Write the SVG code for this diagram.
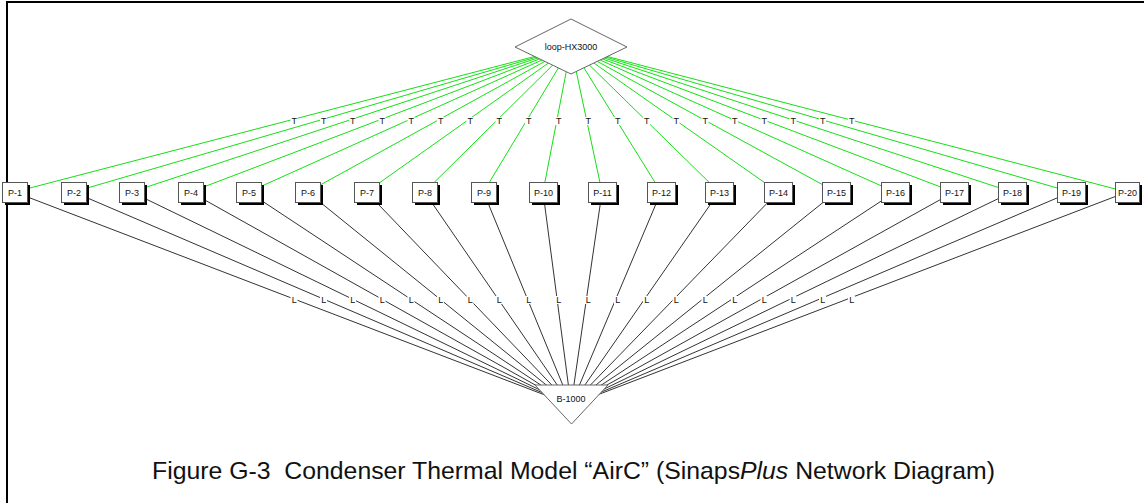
<svg xmlns="http://www.w3.org/2000/svg" width="1144" height="503" viewBox="0 0 1144 503">
  <style>
    .frame { stroke: #000; stroke-width: 2; fill: none; }
    .cT { stroke: #14e014; stroke-width: 1; fill: none; }
    .cL { stroke: #333; stroke-width: 1; fill: none; }
    .lblbg { fill: #fff; }
    .lbl { font-family: "Liberation Sans", Arial, sans-serif; font-size: 9px; fill: #111; text-anchor: middle; }
    .shadow { fill: #000; }
    .box { fill: #fff; stroke: #555; stroke-width: 1; }
    .ntext { font-family: "Liberation Sans", Arial, sans-serif; font-size: 9px; fill: #111; text-anchor: middle; }
    .shape { fill: #fff; stroke: #666; stroke-width: 1; }
    .caption { font-family: "Liberation Sans", Arial, sans-serif; font-size: 24.8px; fill: #111; text-anchor: middle; }
  </style>

  <rect width="1144" height="503" fill="#fff"/>
  <!-- page frame -->
  <path class="frame" d="M7,503 V2 H1144"/>

  <!-- connectors: T links from loop-HX3000, L links to B-1000 -->
  <g id="connectors">
    <g id="t-links">
      <line class="cT" x1="571" y1="47" x2="14.5" y2="192"/>
      <line class="cT" x1="571" y1="47" x2="73.5" y2="192"/>
      <line class="cT" x1="571" y1="47" x2="131.5" y2="192"/>
      <line class="cT" x1="571" y1="47" x2="190.5" y2="192"/>
      <line class="cT" x1="571" y1="47" x2="248.5" y2="192"/>
      <line class="cT" x1="571" y1="47" x2="307.5" y2="192"/>
      <line class="cT" x1="571" y1="47" x2="366.5" y2="192"/>
      <line class="cT" x1="571" y1="47" x2="424.5" y2="192"/>
      <line class="cT" x1="571" y1="47" x2="483.5" y2="192"/>
      <line class="cT" x1="571" y1="47" x2="543" y2="192"/>
      <line class="cT" x1="571" y1="47" x2="602" y2="192"/>
      <line class="cT" x1="571" y1="47" x2="661" y2="192"/>
      <line class="cT" x1="571" y1="47" x2="719" y2="192"/>
      <line class="cT" x1="571" y1="47" x2="778" y2="192"/>
      <line class="cT" x1="571" y1="47" x2="836" y2="192"/>
      <line class="cT" x1="571" y1="47" x2="895" y2="192"/>
      <line class="cT" x1="571" y1="47" x2="954" y2="192"/>
      <line class="cT" x1="571" y1="47" x2="1012" y2="192"/>
      <line class="cT" x1="571" y1="47" x2="1071" y2="192"/>
      <line class="cT" x1="571" y1="47" x2="1127" y2="192"/>
    </g>
    <g id="l-links">
      <line class="cL" x1="14.5" y1="192" x2="571" y2="405"/>
      <line class="cL" x1="73.5" y1="192" x2="571" y2="405"/>
      <line class="cL" x1="131.5" y1="192" x2="571" y2="405"/>
      <line class="cL" x1="190.5" y1="192" x2="571" y2="405"/>
      <line class="cL" x1="248.5" y1="192" x2="571" y2="405"/>
      <line class="cL" x1="307.5" y1="192" x2="571" y2="405"/>
      <line class="cL" x1="366.5" y1="192" x2="571" y2="405"/>
      <line class="cL" x1="424.5" y1="192" x2="571" y2="405"/>
      <line class="cL" x1="483.5" y1="192" x2="571" y2="405"/>
      <line class="cL" x1="543" y1="192" x2="571" y2="405"/>
      <line class="cL" x1="602" y1="192" x2="571" y2="405"/>
      <line class="cL" x1="661" y1="192" x2="571" y2="405"/>
      <line class="cL" x1="719" y1="192" x2="571" y2="405"/>
      <line class="cL" x1="778" y1="192" x2="571" y2="405"/>
      <line class="cL" x1="836" y1="192" x2="571" y2="405"/>
      <line class="cL" x1="895" y1="192" x2="571" y2="405"/>
      <line class="cL" x1="954" y1="192" x2="571" y2="405"/>
      <line class="cL" x1="1012" y1="192" x2="571" y2="405"/>
      <line class="cL" x1="1071" y1="192" x2="571" y2="405"/>
      <line class="cL" x1="1127" y1="192" x2="571" y2="405"/>
    </g>
    <!-- link labels, each on a small white patch at the link midpoint -->
    <g id="t-labels">
      <rect class="lblbg" x="290.5" y="117" width="7" height="8"/><text class="lbl" x="294.2" y="124">T</text>
      <rect class="lblbg" x="320" y="117" width="7" height="8"/><text class="lbl" x="323.7" y="124">T</text>
      <rect class="lblbg" x="349" y="117" width="7" height="8"/><text class="lbl" x="352.7" y="124">T</text>
      <rect class="lblbg" x="378.5" y="117" width="7" height="8"/><text class="lbl" x="382.2" y="124">T</text>
      <rect class="lblbg" x="407.5" y="117" width="7" height="8"/><text class="lbl" x="411.2" y="124">T</text>
      <rect class="lblbg" x="437" y="117" width="7" height="8"/><text class="lbl" x="440.7" y="124">T</text>
      <rect class="lblbg" x="466.5" y="117" width="7" height="8"/><text class="lbl" x="470.2" y="124">T</text>
      <rect class="lblbg" x="495.5" y="117" width="7" height="8"/><text class="lbl" x="499.2" y="124">T</text>
      <rect class="lblbg" x="525" y="117" width="7" height="8"/><text class="lbl" x="528.7" y="124">T</text>
      <rect class="lblbg" x="555" y="117" width="7" height="8"/><text class="lbl" x="558.7" y="124">T</text>
      <rect class="lblbg" x="584.5" y="117" width="7" height="8"/><text class="lbl" x="588.2" y="124">T</text>
      <rect class="lblbg" x="614" y="117" width="7" height="8"/><text class="lbl" x="617.7" y="124">T</text>
      <rect class="lblbg" x="643" y="117" width="7" height="8"/><text class="lbl" x="646.7" y="124">T</text>
      <rect class="lblbg" x="672.5" y="117" width="7" height="8"/><text class="lbl" x="676.2" y="124">T</text>
      <rect class="lblbg" x="701.5" y="117" width="7" height="8"/><text class="lbl" x="705.2" y="124">T</text>
      <rect class="lblbg" x="731" y="117" width="7" height="8"/><text class="lbl" x="734.7" y="124">T</text>
      <rect class="lblbg" x="760.5" y="117" width="7" height="8"/><text class="lbl" x="764.2" y="124">T</text>
      <rect class="lblbg" x="789.5" y="117" width="7" height="8"/><text class="lbl" x="793.2" y="124">T</text>
      <rect class="lblbg" x="819" y="117" width="7" height="8"/><text class="lbl" x="822.7" y="124">T</text>
      <rect class="lblbg" x="848" y="117" width="7" height="8"/><text class="lbl" x="851.7" y="124">T</text>
    </g>
    <g id="l-labels">
      <rect class="lblbg" x="290.5" y="296" width="7" height="8"/><text class="lbl" x="294.2" y="303">L</text>
      <rect class="lblbg" x="320" y="296" width="7" height="8"/><text class="lbl" x="323.7" y="303">L</text>
      <rect class="lblbg" x="349" y="296" width="7" height="8"/><text class="lbl" x="352.7" y="303">L</text>
      <rect class="lblbg" x="378.5" y="296" width="7" height="8"/><text class="lbl" x="382.2" y="303">L</text>
      <rect class="lblbg" x="407.5" y="296" width="7" height="8"/><text class="lbl" x="411.2" y="303">L</text>
      <rect class="lblbg" x="437" y="296" width="7" height="8"/><text class="lbl" x="440.7" y="303">L</text>
      <rect class="lblbg" x="466.5" y="296" width="7" height="8"/><text class="lbl" x="470.2" y="303">L</text>
      <rect class="lblbg" x="495.5" y="296" width="7" height="8"/><text class="lbl" x="499.2" y="303">L</text>
      <rect class="lblbg" x="525" y="296" width="7" height="8"/><text class="lbl" x="528.7" y="303">L</text>
      <rect class="lblbg" x="555" y="296" width="7" height="8"/><text class="lbl" x="558.7" y="303">L</text>
      <rect class="lblbg" x="584.5" y="296" width="7" height="8"/><text class="lbl" x="588.2" y="303">L</text>
      <rect class="lblbg" x="614" y="296" width="7" height="8"/><text class="lbl" x="617.7" y="303">L</text>
      <rect class="lblbg" x="643" y="296" width="7" height="8"/><text class="lbl" x="646.7" y="303">L</text>
      <rect class="lblbg" x="672.5" y="296" width="7" height="8"/><text class="lbl" x="676.2" y="303">L</text>
      <rect class="lblbg" x="701.5" y="296" width="7" height="8"/><text class="lbl" x="705.2" y="303">L</text>
      <rect class="lblbg" x="731" y="296" width="7" height="8"/><text class="lbl" x="734.7" y="303">L</text>
      <rect class="lblbg" x="760.5" y="296" width="7" height="8"/><text class="lbl" x="764.2" y="303">L</text>
      <rect class="lblbg" x="789.5" y="296" width="7" height="8"/><text class="lbl" x="793.2" y="303">L</text>
      <rect class="lblbg" x="819" y="296" width="7" height="8"/><text class="lbl" x="822.7" y="303">L</text>
      <rect class="lblbg" x="848" y="296" width="7" height="8"/><text class="lbl" x="851.7" y="303">L</text>
    </g>
  </g>

  <!-- boundary nodes -->
  <g id="loop-HX3000">
    <polygon class="shape" points="571,19 627,47 571,74 515,47"/>
    <text class="ntext" x="571" y="50">loop-HX3000</text>
  </g>
  <g id="B-1000">
    <polygon class="shape" points="535,385 608,385 571.5,424"/>
    <text class="ntext" x="571" y="402">B-1000</text>
  </g>

  <!-- pipe nodes -->
  <g id="P-1"><rect class="shadow" x="5" y="185" width="25" height="20"/><rect class="box" x="2.5" y="182.5" width="25" height="20"/><text class="ntext" x="15" y="195.5">P-1</text></g>
  <g id="P-2"><rect class="shadow" x="64" y="185" width="25" height="20"/><rect class="box" x="61.5" y="182.5" width="25" height="20"/><text class="ntext" x="74" y="195.5">P-2</text></g>
  <g id="P-3"><rect class="shadow" x="122" y="185" width="25" height="20"/><rect class="box" x="119.5" y="182.5" width="25" height="20"/><text class="ntext" x="132" y="195.5">P-3</text></g>
  <g id="P-4"><rect class="shadow" x="181" y="185" width="25" height="20"/><rect class="box" x="178.5" y="182.5" width="25" height="20"/><text class="ntext" x="191" y="195.5">P-4</text></g>
  <g id="P-5"><rect class="shadow" x="239" y="185" width="25" height="20"/><rect class="box" x="236.5" y="182.5" width="25" height="20"/><text class="ntext" x="249" y="195.5">P-5</text></g>
  <g id="P-6"><rect class="shadow" x="298" y="185" width="25" height="20"/><rect class="box" x="295.5" y="182.5" width="25" height="20"/><text class="ntext" x="308" y="195.5">P-6</text></g>
  <g id="P-7"><rect class="shadow" x="357" y="185" width="25" height="20"/><rect class="box" x="354.5" y="182.5" width="25" height="20"/><text class="ntext" x="367" y="195.5">P-7</text></g>
  <g id="P-8"><rect class="shadow" x="415" y="185" width="25" height="20"/><rect class="box" x="412.5" y="182.5" width="25" height="20"/><text class="ntext" x="425" y="195.5">P-8</text></g>
  <g id="P-9"><rect class="shadow" x="474" y="185" width="25" height="20"/><rect class="box" x="471.5" y="182.5" width="25" height="20"/><text class="ntext" x="484" y="195.5">P-9</text></g>
  <g id="P-10"><rect class="shadow" x="532" y="185" width="28" height="20"/><rect class="box" x="529.5" y="182.5" width="28" height="20"/><text class="ntext" x="543.5" y="195.5">P-10</text></g>
  <g id="P-11"><rect class="shadow" x="591" y="185" width="28" height="20"/><rect class="box" x="588.5" y="182.5" width="28" height="20"/><text class="ntext" x="602.5" y="195.5">P-11</text></g>
  <g id="P-12"><rect class="shadow" x="650" y="185" width="28" height="20"/><rect class="box" x="647.5" y="182.5" width="28" height="20"/><text class="ntext" x="661.5" y="195.5">P-12</text></g>
  <g id="P-13"><rect class="shadow" x="708" y="185" width="28" height="20"/><rect class="box" x="705.5" y="182.5" width="28" height="20"/><text class="ntext" x="719.5" y="195.5">P-13</text></g>
  <g id="P-14"><rect class="shadow" x="767" y="185" width="28" height="20"/><rect class="box" x="764.5" y="182.5" width="28" height="20"/><text class="ntext" x="778.5" y="195.5">P-14</text></g>
  <g id="P-15"><rect class="shadow" x="825" y="185" width="28" height="20"/><rect class="box" x="822.5" y="182.5" width="28" height="20"/><text class="ntext" x="836.5" y="195.5">P-15</text></g>
  <g id="P-16"><rect class="shadow" x="884" y="185" width="28" height="20"/><rect class="box" x="881.5" y="182.5" width="28" height="20"/><text class="ntext" x="895.5" y="195.5">P-16</text></g>
  <g id="P-17"><rect class="shadow" x="943" y="185" width="28" height="20"/><rect class="box" x="940.5" y="182.5" width="28" height="20"/><text class="ntext" x="954.5" y="195.5">P-17</text></g>
  <g id="P-18"><rect class="shadow" x="1001" y="185" width="28" height="20"/><rect class="box" x="998.5" y="182.5" width="28" height="20"/><text class="ntext" x="1012.5" y="195.5">P-18</text></g>
  <g id="P-19"><rect class="shadow" x="1060" y="185" width="28" height="20"/><rect class="box" x="1057.5" y="182.5" width="28" height="20"/><text class="ntext" x="1071.5" y="195.5">P-19</text></g>
  <g id="P-20"><rect class="shadow" x="1118" y="185" width="24" height="20"/><rect class="box" x="1115.5" y="182.5" width="24" height="20"/><text class="ntext" x="1127.5" y="195.5">P-20</text></g>

  <!-- caption -->
  <text class="caption" x="573.5" y="479" xml:space="preserve">Figure G-3  Condenser Thermal Model “AirC” (Sinaps<tspan font-style="italic">Plus</tspan> Network Diagram)</text>
</svg>
